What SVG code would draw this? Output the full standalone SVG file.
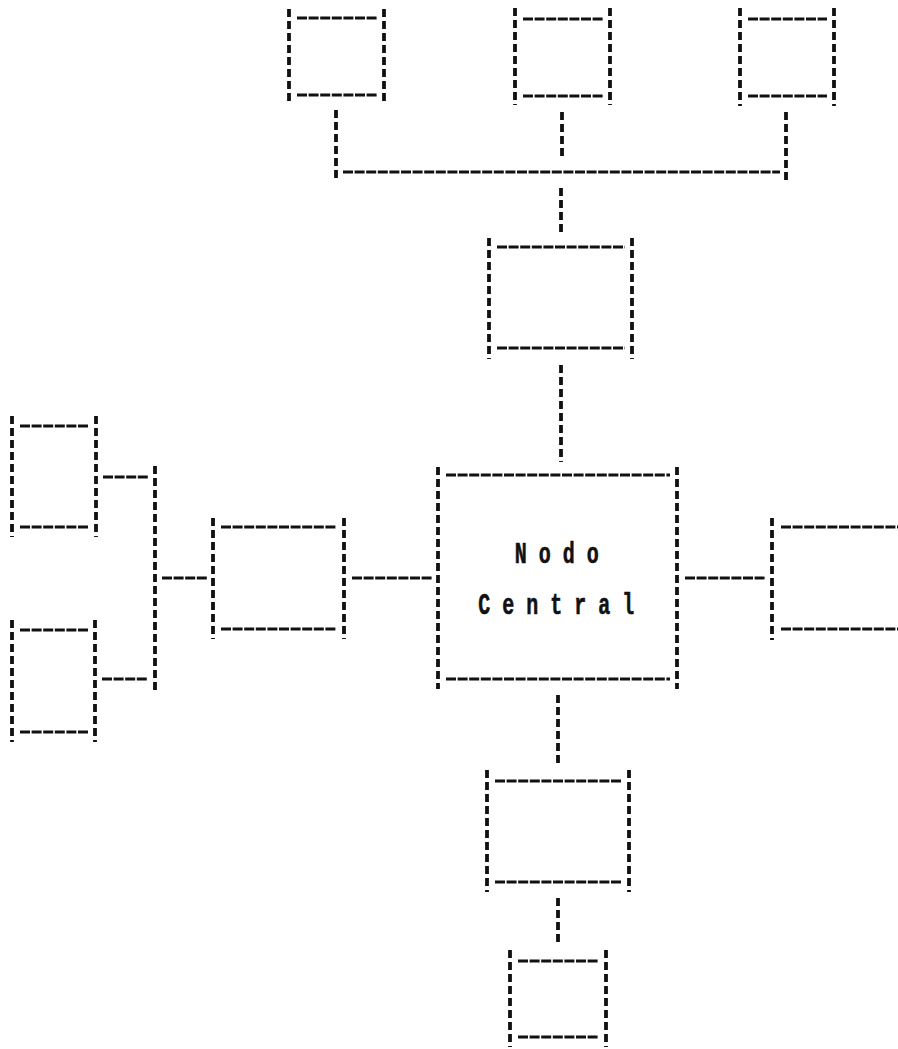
<svg xmlns="http://www.w3.org/2000/svg" width="898" height="1049" viewBox="0 0 898 1049">
  <style>
    .v { stroke: #111; stroke-width: 3.8; stroke-dasharray: 8 4; fill: none; }
    .h { stroke: #111; stroke-width: 2.8; stroke-dasharray: 10 1.6; fill: none; }
    .lbl { font-family: "Liberation Mono", "DejaVu Sans Mono", monospace; font-weight: bold; font-size: 29px; fill: #111; stroke: #111; stroke-width: 0.6; }
  </style>
  <rect width="898" height="1049" fill="#ffffff"/>

  <!-- connectors -->
  <g id="connectors">
    <!-- top bus -->
    <path class="v" d="M336 110V181"/>
    <path class="v" d="M562 112V158"/>
    <path class="v" d="M786 112V182"/>
    <path class="h" d="M343 172H780"/>
    <path class="v" d="M561 188V232"/>
    <!-- upper hub to central node -->
    <path class="v" d="M561 365V462"/>
    <!-- central node downwards -->
    <path class="v" d="M558 695V767"/>
    <path class="v" d="M558 898V943"/>
    <!-- left branch -->
    <path class="h" d="M103 477H148"/>
    <path class="h" d="M102 679H147"/>
    <path class="v" d="M155 466V690"/>
    <path class="h" d="M162 578H207"/>
    <path class="h" d="M352 578H432"/>
    <!-- right branch -->
    <path class="h" d="M685 578H765"/>
  </g>

  <!-- nodes: two dashed sides plus inset top/bottom rules -->
  <g id="node-top-1">
    <path class="v" d="M289 9V105M384 9V105"/>
    <path class="h" d="M297 18H377M297 95H377"/>
  </g>
  <g id="node-top-2">
    <path class="v" d="M515 8V105M610 8V105"/>
    <path class="h" d="M523 19H603M523 96H603"/>
  </g>
  <g id="node-top-3">
    <path class="v" d="M740 8V106M834 8V106"/>
    <path class="h" d="M748 19H827M748 96H827"/>
  </g>
  <g id="node-upper-hub">
    <path class="v" d="M489 238V359M632 238V359"/>
    <path class="h" d="M497 247H625M497 348H625"/>
  </g>
  <g id="node-central">
    <path class="v" d="M438 467V689M677 467V689"/>
    <path class="h" d="M446 475H670M446 679H670"/>
    <g transform="scale(0.69 1)">
      <text class="lbl" x="746" y="563">N o d o</text>
      <text class="lbl" x="693" y="614">C e n t r a l</text>
    </g>
  </g>
  <g id="node-lower-hub">
    <path class="v" d="M487 770V892M629 770V892"/>
    <path class="h" d="M495 781H622M495 882H622"/>
  </g>
  <g id="node-bottom">
    <path class="v" d="M510 950V1047M606 950V1047"/>
    <path class="h" d="M518 961H599M518 1037H599"/>
  </g>
  <g id="node-left-1">
    <path class="v" d="M12 416V537M96 416V537"/>
    <path class="h" d="M20 426H89M20 527H89"/>
  </g>
  <g id="node-left-2">
    <path class="v" d="M12 620V742M95 620V742"/>
    <path class="h" d="M20 630H89M20 732H89"/>
  </g>
  <g id="node-left-hub">
    <path class="v" d="M213 518V639M344 518V639"/>
    <path class="h" d="M221 527H337M221 629H337"/>
  </g>
  <g id="node-right">
    <path class="v" d="M772 518V640"/>
    <path class="h" d="M781 527H898M781 629H898"/>
  </g>
</svg>
